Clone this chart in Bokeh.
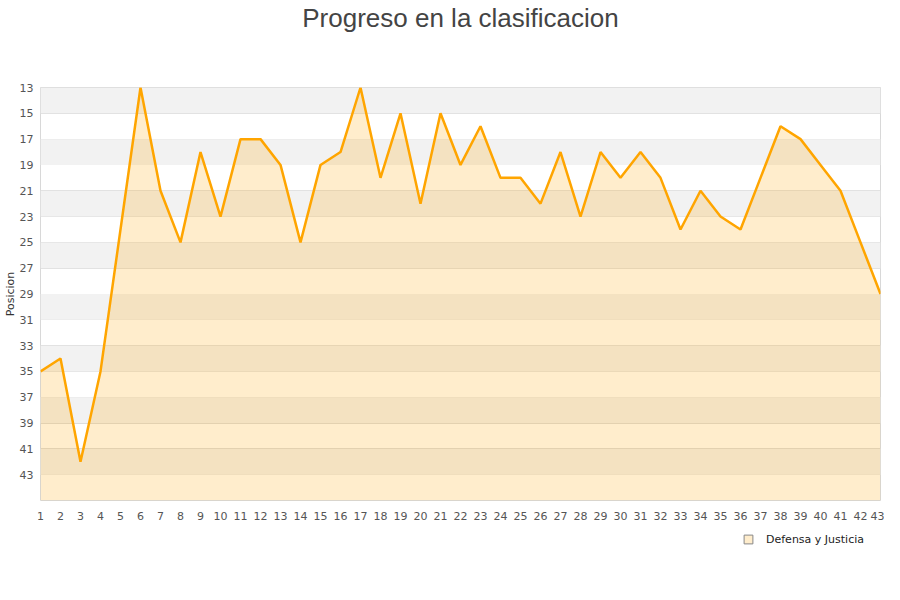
from bokeh.plotting import figure
from bokeh.layouts import column
from bokeh.models import Range1d, BoxAnnotation, Legend, LegendItem, FixedTicker, ColumnDataSource, Title
from bokeh.embed import file_html
from bokeh.resources import INLINE

jornadas = list(range(1, 44))
posiciones = [35, 34, 42, 35, 24, 13, 21, 25, 18, 23, 17, 17, 19, 25, 19, 18, 13, 20, 15, 22,
              15, 19, 16, 20, 20, 22, 18, 23, 18, 20, 18, 20, 24, 21, 23, 24, 20, 16, 17, 19,
              21, 25, 29]
y_ticks = list(range(13, 44, 2))
equipo = "Defensa y Justicia"
titulo = "Progreso en la clasificacion"
y_label = "Posicion"

Y_MIN, Y_MAX = 13, 45

p = figure(width=884, height=522, output_backend="svg", toolbar_location=None,
           x_range=Range1d(1, 43), y_range=Range1d(Y_MAX, Y_MIN),
           min_border_left=0, min_border_right=4, min_border_top=0, min_border_bottom=16,
           title=None)

# spacer (closest to frame), then main title (outermost)
p.add_layout(Title(text=" ", text_font_size="48px", standoff=0), "above")
p.add_layout(Title(text=titulo, text_font="Liberation Sans", text_font_size="26px",
                   text_font_style="normal", text_color="#444444", align="center",
                   standoff=0, offset=0), "above")

# alternating bands
for lo in range(13, 44, 4):
    p.add_layout(BoxAnnotation(bottom=lo, top=lo + 2, fill_color="#f2f2f2", fill_alpha=1,
                               line_color=None, level="underlay"))

src = ColumnDataSource(dict(x=jornadas, y=posiciones, base=[Y_MAX] * len(jornadas)))
p.varea(x="x", y1="y", y2="base", source=src, fill_color="#ffa500", fill_alpha=0.2)
p.line(x="x", y="y", source=src, line_color="#ffa500", line_width=2.5)

p.xaxis.ticker = FixedTicker(ticks=jornadas)
p.yaxis.ticker = FixedTicker(ticks=y_ticks)
for ax in (p.xaxis, p.yaxis):
    ax.axis_line_color = None
    ax.major_tick_line_color = None
    ax.minor_tick_line_color = None
    ax.major_label_text_font = "DejaVu Sans"
    ax.major_label_text_font_size = "11px"
    ax.major_label_text_color = "#555555"
p.xaxis.major_label_standoff = 5
p.yaxis.major_label_standoff = 1
p.yaxis.axis_label = y_label
p.yaxis.axis_label_standoff = 0
p.yaxis.axis_label_text_font = "DejaVu Sans"
p.yaxis.axis_label_text_font_size = "11px"
p.yaxis.axis_label_text_font_style = "normal"
p.yaxis.axis_label_text_color = "#333333"

p.xgrid.grid_line_color = None
p.ygrid.grid_line_color = "#dddddd"
p.ygrid.grid_line_width = 1
p.outline_line_color = "#d8d8d8"
p.background_fill_color = "white"
p.border_fill_color = "white"

# legend strip below the chart (the key glyph sits outside the visible range)
lg = figure(width=884, height=40, output_backend="svg", toolbar_location=None,
            x_range=Range1d(0, 1), y_range=Range1d(0, 1),
            x_axis_type=None, y_axis_type=None,
            min_border=0, outline_line_color=None)
lg.grid.visible = False
key = lg.scatter(x=[-5], y=[-5], marker="square", size=9, fill_color="#ffedcc",
                 line_color="#888888", line_width=1)
legend = Legend(items=[LegendItem(label=equipo, renderers=[key])],
                location=(697, 12), border_line_color=None, background_fill_alpha=0,
                label_text_font="DejaVu Sans", label_text_font_size="11px",
                label_text_color="#222222", glyph_width=22, glyph_height=22,
                padding=2, margin=0, label_standoff=7)
lg.add_layout(legend)

layout = column(p, lg, spacing=0)
open("out.html", "w").write(file_html(layout, INLINE))
